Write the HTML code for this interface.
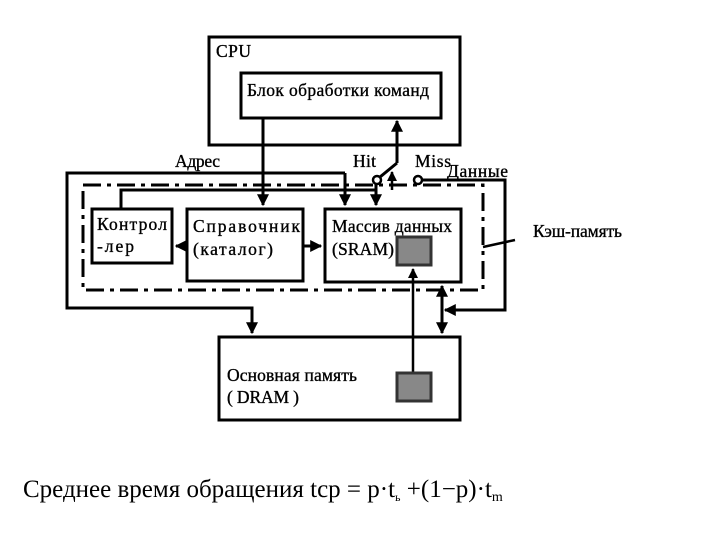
<!DOCTYPE html>
<html><head><meta charset="utf-8"><style>body{margin:0;background:#fff}svg{display:block}text{font-family:"Liberation Serif",serif;fill:#000}</style></head>
<body><svg width="720" height="540" viewBox="0 0 720 540" xmlns="http://www.w3.org/2000/svg">
<defs><marker id="a" viewBox="0 0 10 10" refX="9" refY="5" markerWidth="4" markerHeight="4" orient="auto-start-reverse"><path d="M0,0L10,5L0,10z" fill="#000"/></marker></defs>
<g fill="none" stroke="#000" stroke-width="3">
<rect x="209" y="37" width="251" height="108"/>
<rect x="241" y="73" width="200" height="45"/>
<rect x="92" y="209" width="80" height="54"/>
<rect x="187" y="209" width="116" height="72"/>
<rect x="325" y="209" width="136" height="73"/>
<rect x="219" y="337" width="241" height="83"/>
<rect x="83" y="185" width="400" height="105" stroke-dasharray="18,6,4,6"/>
<path d="M263 118V205" marker-end="url(#a)"/>
<path d="M397 163V121" marker-end="url(#a)"/>
<path d="M397 163L380 177"/>
<path d="M392 190V172" marker-end="url(#a)" stroke-width="2.5"/>
<path d="M345 173H67V308H252V333" marker-end="url(#a)"/>
<path d="M345 173V205" marker-end="url(#a)"/>
<path d="M121 209V190H376V205" marker-end="url(#a)"/>
<path d="M376 184V190"/>
<path d="M422 180H505V310H445" marker-end="url(#a)"/>
<path d="M442 286V333" marker-start="url(#a)" marker-end="url(#a)"/>
<path d="M187 246H176" marker-end="url(#a)"/>
<path d="M303 246H321" marker-end="url(#a)"/>
<path d="M413 372V269" marker-end="url(#a)" stroke-width="2.5"/>
<path d="M483 247L515 240" stroke-width="2.5"/>
<circle cx="377" cy="180" r="4" stroke-width="2.5"/>
<circle cx="418" cy="180" r="4" stroke-width="2.5"/>
</g>
<rect x="397" y="237" width="34" height="28" fill="#888" stroke="#333" stroke-width="3"/>
<rect x="397" y="373" width="34" height="28" fill="#888" stroke="#333" stroke-width="3"/>
<g font-size="17.5" stroke="#000" stroke-width="0.35">
<text x="216" y="57" textLength="35">CPU</text>
<text x="247" y="96" textLength="182">Блок обработки команд</text>
<text x="175" y="167" textLength="45">Адрес</text>
<text x="353" y="167" textLength="23">Hit</text>
<text x="415" y="167" textLength="36">Miss</text>
<text x="447" y="177" textLength="61">Данные</text>
<text x="97" y="230" textLength="70">Контрол</text>
<text x="97" y="252" textLength="37">-лер</text>
<text x="193" y="232" textLength="107">Справочник</text>
<text x="193" y="255" textLength="80">(каталог)</text>
<text x="332" y="232" textLength="120">Массив данных</text>
<text x="332" y="255" textLength="62">(SRAM)</text>
<text x="533" y="237" textLength="89">Кэш-память</text>
<text x="227" y="381" textLength="130">Основная память</text>
<text x="227" y="403" textLength="72">( DRAM )</text>
</g>
<text x="23" y="497" font-size="25">Среднее время обращения  tср = p·t<tspan font-size="12" dy="4">ь</tspan><tspan dy="-4"> +(1−p)·t</tspan><tspan font-size="14" dy="4">m</tspan></text>
</svg></body></html>
